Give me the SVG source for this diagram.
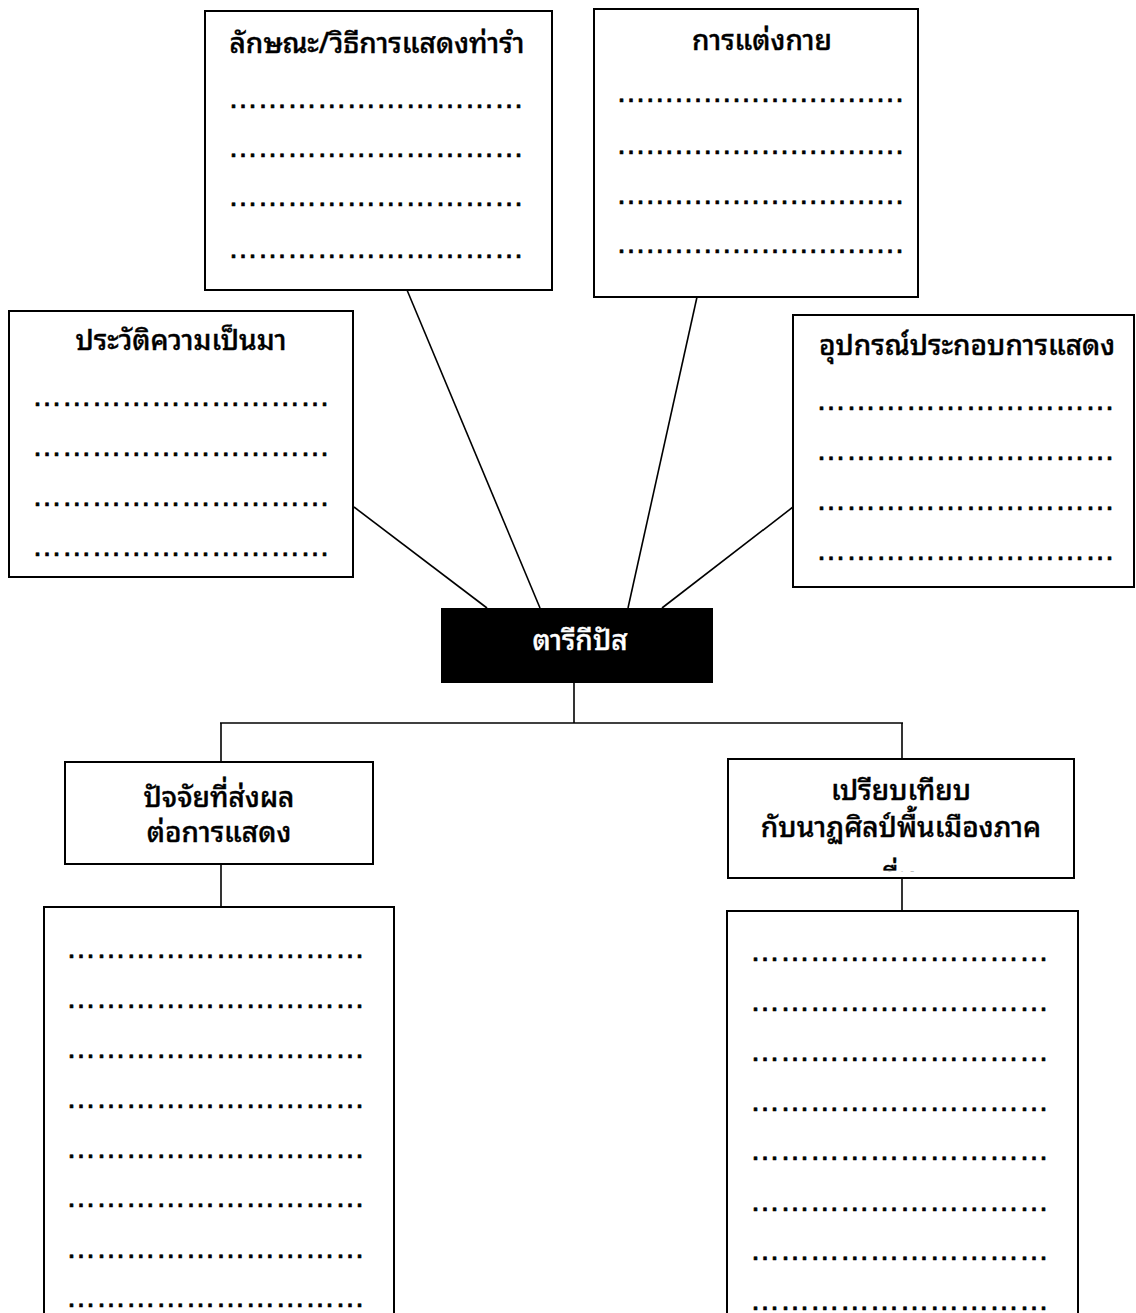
<svg xmlns="http://www.w3.org/2000/svg" width="1136" height="1313" viewBox="0 0 1136 1313">
<style>
.box{fill:#fff;stroke:#000;stroke-width:2}
.t{font-family:"Noto Sans Thai Looped","Noto Sans Thai","Noto Sans","Liberation Sans",Tahoma,sans-serif;font-size:28px;font-weight:500;fill:#000;stroke:#000;stroke-width:0.4;text-anchor:middle}
.d{font-family:"Liberation Sans",Arial,sans-serif;font-size:30px;fill:#000;stroke:#000;stroke-width:0.7}
.c line{stroke:#000;stroke-width:1.6}
</style>
<defs>
<clipPath id="clip6"><rect x="729" y="760" width="344" height="112"/></clipPath>
</defs>
<rect width="1136" height="1313" fill="#fff"/>
<g class="c" id="connectors">
<line x1="354" y1="507" x2="487" y2="608"/>
<line x1="407" y1="290" x2="540" y2="608"/>
<line x1="697" y1="297" x2="628" y2="608"/>
<line x1="793" y1="507" x2="662" y2="608"/>
<line x1="574" y1="683" x2="574" y2="723"/>
<line x1="220" y1="723" x2="903" y2="723"/>
<line x1="221" y1="723" x2="221" y2="762"/>
<line x1="902" y1="723" x2="902" y2="759"/>
<line x1="221" y1="864" x2="221" y2="907"/>
<line x1="902" y1="878" x2="902" y2="911"/>
</g>
<g id="n-style">
<rect class="box" x="205" y="11" width="347" height="279"/>
<text class="t" x="377" y="53">ลักษณะ/วิธีการแสดงท่ารำ</text>
<text class="d" x="228" y="108" textLength="296" lengthAdjust="spacing">&#8230;&#8230;&#8230;&#8230;&#8230;&#8230;&#8230;&#8230;&#8230;&#8230;</text>
<text class="d" x="228" y="157" textLength="296" lengthAdjust="spacing">&#8230;&#8230;&#8230;&#8230;&#8230;&#8230;&#8230;&#8230;&#8230;&#8230;</text>
<text class="d" x="228" y="206" textLength="296" lengthAdjust="spacing">&#8230;&#8230;&#8230;&#8230;&#8230;&#8230;&#8230;&#8230;&#8230;&#8230;</text>
<text class="d" x="228" y="258" textLength="296" lengthAdjust="spacing">&#8230;&#8230;&#8230;&#8230;&#8230;&#8230;&#8230;&#8230;&#8230;&#8230;</text>
</g>
<g id="n-costume">
<rect class="box" x="594" y="9" width="324" height="288"/>
<text class="t" x="762" y="50">การแต่งกาย</text>
<text class="d" x="616" y="102" textLength="289" lengthAdjust="spacing">&#8230;&#8230;&#8230;&#8230;&#8230;&#8230;&#8230;&#8230;&#8230;&#8230;</text>
<text class="d" x="616" y="154" textLength="289" lengthAdjust="spacing">&#8230;&#8230;&#8230;&#8230;&#8230;&#8230;&#8230;&#8230;&#8230;&#8230;</text>
<text class="d" x="616" y="204" textLength="289" lengthAdjust="spacing">&#8230;&#8230;&#8230;&#8230;&#8230;&#8230;&#8230;&#8230;&#8230;&#8230;</text>
<text class="d" x="616" y="253" textLength="289" lengthAdjust="spacing">&#8230;&#8230;&#8230;&#8230;&#8230;&#8230;&#8230;&#8230;&#8230;&#8230;</text>
</g>
<g id="n-history">
<rect class="box" x="9" y="311" width="344" height="266"/>
<text class="t" x="181" y="350">ประวัติความเป็นมา</text>
<text class="d" x="32" y="406" textLength="298" lengthAdjust="spacing">&#8230;&#8230;&#8230;&#8230;&#8230;&#8230;&#8230;&#8230;&#8230;&#8230;</text>
<text class="d" x="32" y="456" textLength="298" lengthAdjust="spacing">&#8230;&#8230;&#8230;&#8230;&#8230;&#8230;&#8230;&#8230;&#8230;&#8230;</text>
<text class="d" x="32" y="506" textLength="298" lengthAdjust="spacing">&#8230;&#8230;&#8230;&#8230;&#8230;&#8230;&#8230;&#8230;&#8230;&#8230;</text>
<text class="d" x="32" y="556" textLength="298" lengthAdjust="spacing">&#8230;&#8230;&#8230;&#8230;&#8230;&#8230;&#8230;&#8230;&#8230;&#8230;</text>
</g>
<g id="n-props">
<rect class="box" x="793" y="315" width="341" height="272"/>
<text class="t" x="967" y="355">อุปกรณ์ประกอบการแสดง</text>
<text class="d" x="816" y="410" textLength="299" lengthAdjust="spacing">&#8230;&#8230;&#8230;&#8230;&#8230;&#8230;&#8230;&#8230;&#8230;&#8230;</text>
<text class="d" x="816" y="460" textLength="299" lengthAdjust="spacing">&#8230;&#8230;&#8230;&#8230;&#8230;&#8230;&#8230;&#8230;&#8230;&#8230;</text>
<text class="d" x="816" y="510" textLength="299" lengthAdjust="spacing">&#8230;&#8230;&#8230;&#8230;&#8230;&#8230;&#8230;&#8230;&#8230;&#8230;</text>
<text class="d" x="816" y="560" textLength="299" lengthAdjust="spacing">&#8230;&#8230;&#8230;&#8230;&#8230;&#8230;&#8230;&#8230;&#8230;&#8230;</text>
</g>
<g id="n-center">
<rect x="441" y="608" width="272" height="75" fill="#000"/>
<text class="t" x="580" y="650" style="fill:#fff;stroke:#fff">ตารีกีปัส</text>
</g>
<g id="n-factors">
<rect class="box" x="65" y="762" width="308" height="102"/>
<text class="t" x="219" y="807">ปัจจัยที่ส่งผล</text>
<text class="t" x="219" y="842">ต่อการแสดง</text>
</g>
<g id="n-compare">
<rect class="box" x="728" y="759" width="346" height="119"/>
<text class="t" x="901" y="800">เปรียบเทียบ</text>
<text class="t" x="901" y="837">กับนาฏศิลป์พื้นเมืองภาค</text>
<text class="t" x="899" y="888" clip-path="url(#clip6)">อื่น</text>
</g>
<g id="n-factors-notes">
<rect class="box" x="44" y="907" width="350" height="420"/>
<text class="d" x="66" y="958" textLength="299" lengthAdjust="spacing">&#8230;&#8230;&#8230;&#8230;&#8230;&#8230;&#8230;&#8230;&#8230;&#8230;</text>
<text class="d" x="66" y="1008" textLength="299" lengthAdjust="spacing">&#8230;&#8230;&#8230;&#8230;&#8230;&#8230;&#8230;&#8230;&#8230;&#8230;</text>
<text class="d" x="66" y="1058" textLength="299" lengthAdjust="spacing">&#8230;&#8230;&#8230;&#8230;&#8230;&#8230;&#8230;&#8230;&#8230;&#8230;</text>
<text class="d" x="66" y="1108" textLength="299" lengthAdjust="spacing">&#8230;&#8230;&#8230;&#8230;&#8230;&#8230;&#8230;&#8230;&#8230;&#8230;</text>
<text class="d" x="66" y="1158" textLength="299" lengthAdjust="spacing">&#8230;&#8230;&#8230;&#8230;&#8230;&#8230;&#8230;&#8230;&#8230;&#8230;</text>
<text class="d" x="66" y="1207" textLength="299" lengthAdjust="spacing">&#8230;&#8230;&#8230;&#8230;&#8230;&#8230;&#8230;&#8230;&#8230;&#8230;</text>
<text class="d" x="66" y="1258" textLength="299" lengthAdjust="spacing">&#8230;&#8230;&#8230;&#8230;&#8230;&#8230;&#8230;&#8230;&#8230;&#8230;</text>
<text class="d" x="66" y="1307" textLength="299" lengthAdjust="spacing">&#8230;&#8230;&#8230;&#8230;&#8230;&#8230;&#8230;&#8230;&#8230;&#8230;</text>
</g>
<g id="n-compare-notes">
<rect class="box" x="727" y="911" width="351" height="420"/>
<text class="d" x="750" y="961" textLength="299" lengthAdjust="spacing">&#8230;&#8230;&#8230;&#8230;&#8230;&#8230;&#8230;&#8230;&#8230;&#8230;</text>
<text class="d" x="750" y="1011" textLength="299" lengthAdjust="spacing">&#8230;&#8230;&#8230;&#8230;&#8230;&#8230;&#8230;&#8230;&#8230;&#8230;</text>
<text class="d" x="750" y="1061" textLength="299" lengthAdjust="spacing">&#8230;&#8230;&#8230;&#8230;&#8230;&#8230;&#8230;&#8230;&#8230;&#8230;</text>
<text class="d" x="750" y="1111" textLength="299" lengthAdjust="spacing">&#8230;&#8230;&#8230;&#8230;&#8230;&#8230;&#8230;&#8230;&#8230;&#8230;</text>
<text class="d" x="750" y="1160" textLength="299" lengthAdjust="spacing">&#8230;&#8230;&#8230;&#8230;&#8230;&#8230;&#8230;&#8230;&#8230;&#8230;</text>
<text class="d" x="750" y="1211" textLength="299" lengthAdjust="spacing">&#8230;&#8230;&#8230;&#8230;&#8230;&#8230;&#8230;&#8230;&#8230;&#8230;</text>
<text class="d" x="750" y="1260" textLength="299" lengthAdjust="spacing">&#8230;&#8230;&#8230;&#8230;&#8230;&#8230;&#8230;&#8230;&#8230;&#8230;</text>
<text class="d" x="750" y="1310" textLength="299" lengthAdjust="spacing">&#8230;&#8230;&#8230;&#8230;&#8230;&#8230;&#8230;&#8230;&#8230;&#8230;</text>
</g>
</svg>
